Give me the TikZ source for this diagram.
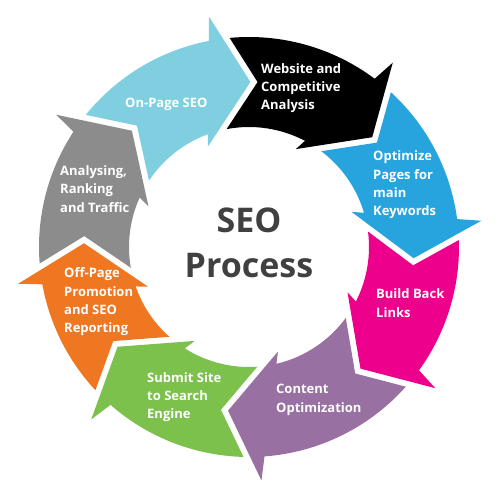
\documentclass[tikz,border=0pt]{standalone}
\usepackage{fontspec}
\setmainfont{Open Sans}
\definecolor{segcyan}{RGB}{128,207,224}
\definecolor{segblue}{RGB}{39,163,221}
\definecolor{segmagenta}{RGB}{236,0,140}
\definecolor{segpurple}{RGB}{152,112,162}
\definecolor{seggreen}{RGB}{124,193,76}
\definecolor{segorange}{RGB}{240,119,34}
\definecolor{seggray}{RGB}{140,140,140}
\definecolor{seodark}{RGB}{64,64,64}
\begin{document}
\begin{tikzpicture}[x=1pt, y=1pt, line join=round,
	lbl/.style={text=white, font=\bfseries\fontsize{13}{18.3}\selectfont, align=left, inner sep=0pt, anchor=west},
	seotitle/.style={text=seodark, font=\bfseries\fontsize{34}{45}\selectfont, align=center, inner sep=0pt}]
	\useasboundingbox (-249,-253) rectangle (251,247);
	\path (0,0) coordinate (O);
	% ring pieces: tail at angle \a (tip of the one before), head tip at angle \b
	\foreach \col/\a/\b in {segcyan/135.2/89.5, black/89.5/41.7, segblue/41.7/-3.9,
		segmagenta/-3.9/-47.5, segpurple/-47.5/-97.3, seggreen/-97.3/-142.8,
		segorange/-142.8/-181.3, seggray/178.7/135.2}
	\fill[\col] ({\a+5.8}:210pt) arc[start angle=\a+5.8, end angle=\b+11.54, radius=210pt]
		-- ({\b+10.35}:233.8pt) -- (\b:165pt) -- ({\b+22.78}:108.46pt) -- ({\b+20.49}:120pt)
		arc[start angle=\b+20.49, end angle=\a+11.26, radius=120pt] -- ({\a-2.48}:165.15pt) -- cycle;
	\node[lbl] (onpage) at (-124,143) {On-Page SEO};
	\node[lbl] (website) at (12,159) {Website and\\Competitive\\Analysis};
	\node[lbl] (optimize) at (124,62) {Optimize\\Pages for\\main\\Keywords};
	\node[lbl] (backlinks) at (127,-56) {Build Back\\Links};
	\node[lbl] (content) at (27,-153) {Content\\Optimization};
	\node[lbl] (submit) at (-102,-150) {Submit Site\\to Search\\Engine};
	\node[lbl] (offpage) at (-185,-55) {Off-Page\\Promotion\\and SEO\\Reporting};
	\node[lbl] (analysing) at (-189,58) {Analysing,\\Ranking\\and Traffic};
	\node[seotitle] (title) at (0,4) {SEO\\Process};
\end{tikzpicture}
\end{document}
